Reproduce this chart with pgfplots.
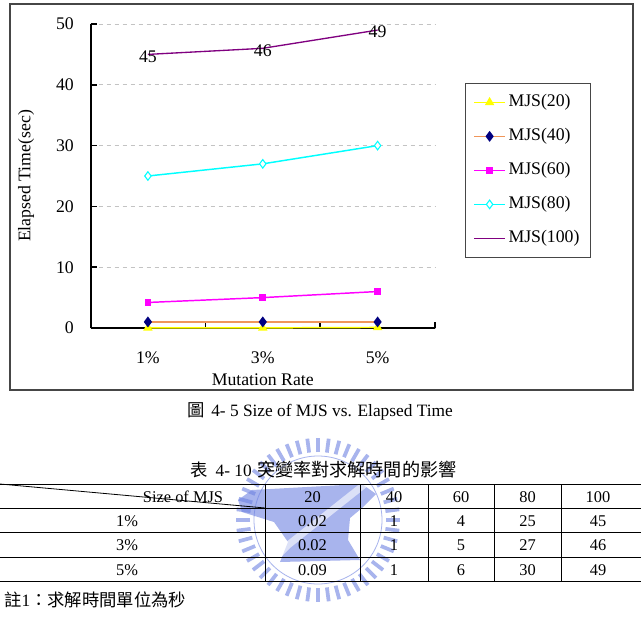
\documentclass[border=0pt]{standalone}
\usepackage{fontspec}
\setmainfont{Liberation Serif}
\newfontfamily\cjk{Noto Sans CJK TC}
\usepackage{pgfplots}
\pgfplotsset{compat=1.18}
\definecolor{mjsyellow}{RGB}{255,255,0}
\definecolor{mjsorange}{RGB}{240,150,90}
\definecolor{mjsnavy}{RGB}{0,0,128}
\definecolor{mjsmagenta}{RGB}{255,0,255}
\definecolor{mjscyan}{RGB}{0,255,255}
\definecolor{mjspurple}{RGB}{128,0,128}
\definecolor{framegray}{RGB}{70,70,70}
\definecolor{gridgray}{RGB}{195,195,195}
\definecolor{wm}{RGB}{110,130,225}
\newcommand{\cf}{\fontsize{13.3}{15}\selectfont}
\begin{document}
\begin{tikzpicture}[x=0.75pt,y=0.75pt]
\useasboundingbox (0,0) rectangle (641,621);
\fill[white] (0,0) rectangle (641,621);
\draw[framegray, line width=1.1pt] (10,231) rectangle (633,617);
\begin{axis}[
  at={(67.875pt,219.75pt)}, anchor=south west,
  scale only axis, width=258.4pt, height=228pt,
  xmin=-0.5, xmax=2.5, ymin=0, ymax=50,
  clip=false,
  axis x line*=bottom, axis y line*=left,
  axis line style={line width=1.5pt, -},
  major tick length=4.5pt,
  tick align=inside,
  xtick={-0.5,0.5,1.5,2.5}, xticklabels={},
  x tick style={line width=1.2pt, black},
  extra x ticks={0,1,2}, extra x tick labels={1\%,3\%,5\%},
  extra x tick style={major tick length=0pt, grid=none,
     tick label style={anchor=center, yshift=-22.5pt}},
  ytick={0,10,20,30,40,50},
  y tick style={line width=1.2pt, black},
  yticklabel style={anchor=east, xshift=-9pt},
  ymajorgrids, grid style={dashed, gridgray, line width=0.6pt},
  tick label style={font=\cf},
  /pgf/number format/assume math mode=true,
  label style={font=\cf},
  xlabel={Mutation Rate},
  ylabel={Elapsed Time(sec)},
  x label style={at={(axis description cs:0.5,-0.171)}, anchor=center},
  y label style={at={(axis description cs:-0.187,0.5)}, anchor=center},
  legend style={at={(axis description cs:1.087,0.806)}, anchor=north west,
    draw=framegray, line width=0.6pt, fill=white, font=\cf,
    row sep=11pt, inner xsep=6pt, inner ysep=7pt,
    nodes={inner ysep=1pt, inner xsep=2pt, text height=9.5pt, text depth=3pt}},
  legend cell align=left,
  legend image code/.code={\draw[mark repeat=2,mark phase=2,#1] plot coordinates {(0pt,0pt) (11.6pt,0pt) (23.25pt,0pt)};},
]
\addplot[mjsyellow, line width=1.1pt, mark=triangle*, mark size=3pt, mark options={fill=mjsyellow, draw=mjsyellow}]
  coordinates {(0,0.02) (1,0.02) (2,0.09)};
\addlegendentry{MJS(20)}
\addplot[mjsorange, line width=1.1pt, mark=diamond*, mark size=3.2pt, mark options={fill=mjsnavy, draw=mjsnavy}]
  coordinates {(0,1) (1,1) (2,1)};
\addlegendentry{MJS(40)}
\addplot[mjsmagenta, line width=1.1pt, mark=square*, mark size=2pt, mark options={fill=mjsmagenta, draw=mjsmagenta}]
  coordinates {(0,4.2) (1,5) (2,6)};
\addlegendentry{MJS(60)}
\addplot[mjscyan, line width=1.1pt, mark=diamond*, mark size=3.2pt, mark options={fill=white, draw=mjscyan, line width=0.8pt}]
  coordinates {(0,25) (1,27) (2,30)};
\addlegendentry{MJS(80)}
\addplot[mjspurple, line width=1pt, mark=none,
  nodes near coords, every node near coord/.append style={anchor=center, yshift=-1.5pt, font=\cf, text=black}]
  coordinates {(0,45) (1,46) (2,49)};
\addlegendentry{MJS(100)}
\end{axis}
% faint watermark (decoration), behind the table
\begin{scope}[shift={(318,101)}, opacity=0.6]
\foreach \a in {0,7.5,...,352.5} \draw[wm, line width=2.8pt] (\a:68) -- (\a:82);
\draw[wm, line width=0.6pt] (0,0) circle (64);
\fill[wm] (-80,20) -- (-66,30) -- (44,36) -- (58,26) -- (44,12) -- (32,2) -- (30,-20) -- (42,-40) -- (-38,-42) -- (-30,-22) -- (-44,-2) -- (-76,8) -- cycle;
\fill[white] (-36,-36) -- (-28,-28) -- (50,34) -- (44,38) -- (-42,-30) -- cycle;
\end{scope}
% captions
\node[anchor=west, inner sep=0pt, font=\fontsize{13}{15}\selectfont] at (187,210) {{\cjk 圖}\hspace{5pt}4- 5 Size of MJS vs. Elapsed Time};
\node[anchor=west, inner sep=0pt, font=\fontsize{13}{15}\selectfont] at (190,151) {{\cjk 表}\hspace{6pt}4- 10\hspace{4pt}{\cjk\fontsize{13.6}{15}\selectfont 突變率對求解時間的影響}};
% table
\begin{scope}[line width=0.75pt]
\foreach \y in {137,113,89,64,40} \draw (0,\y) -- (641,\y);
\foreach \x in {265,360,428,494,561} \draw (\x,137) -- (\x,40);
\draw[line width=0.6pt] (0,137) -- (265,113);
\end{scope}
\begin{scope}[every node/.style={font=\fontsize{12.3}{14}\selectfont, inner sep=0pt, anchor=center}]
\node at (183,124) {Size of MJS};
\node at (312.5,124) {20};
\node at (394,124) {40};
\node at (461,124) {60};
\node at (527.5,124) {80};
\node at (598,124) {100};
\node at (127,100) {1\%}; \node at (312.5,100) {0.02}; \node at (394,100) {1}; \node at (461,100) {4}; \node at (527.5,100) {25}; \node at (598,100) {45};
\node at (127,76) {3\%}; \node at (312.5,76) {0.02}; \node at (394,76) {1}; \node at (461,76) {5}; \node at (527.5,76) {27}; \node at (598,76) {46};
\node at (127,51) {5\%}; \node at (312.5,51) {0.09}; \node at (394,51) {1}; \node at (461,51) {6}; \node at (527.5,51) {30}; \node at (598,51) {49};
\end{scope}
\node[anchor=west, inner sep=0pt, font=\fontsize{13}{15}\selectfont] at (4,21) {{\cjk 註}1{\cjk ：求解時間單位為秒}};
\end{tikzpicture}
\end{document}
